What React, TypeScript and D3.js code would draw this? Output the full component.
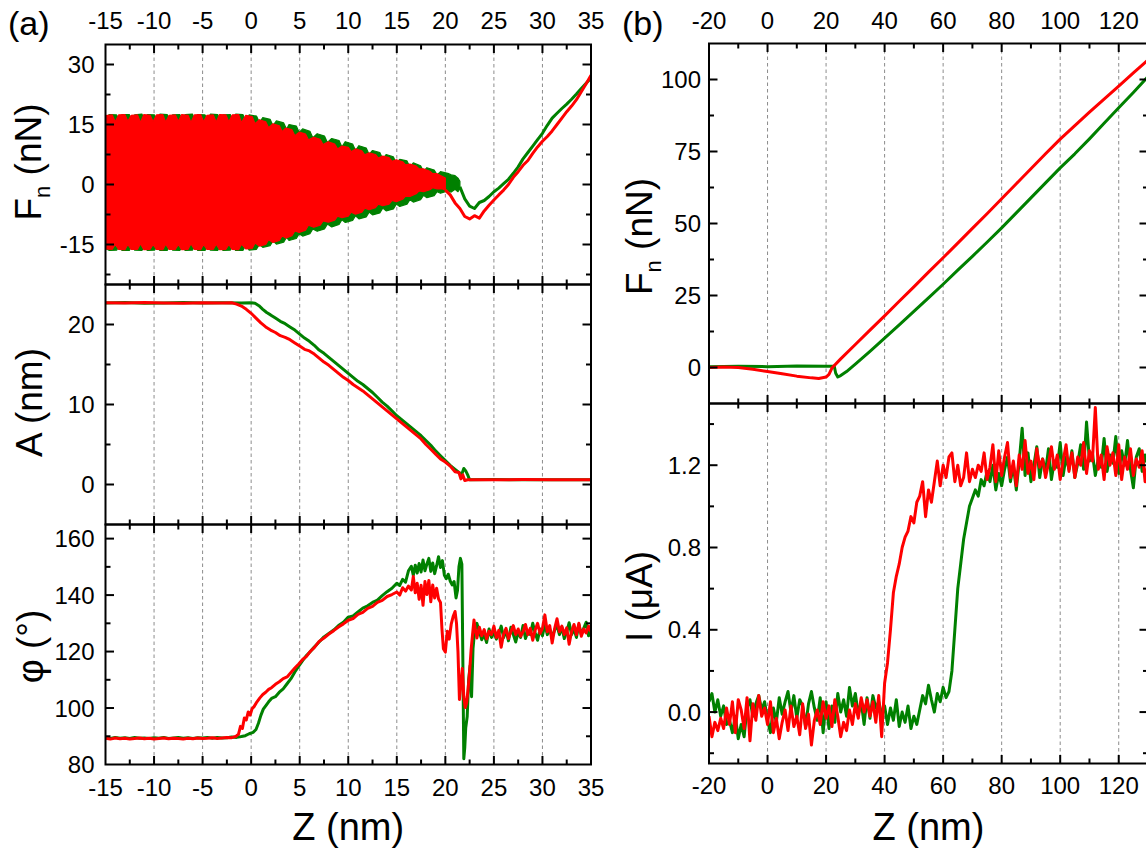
import React from "react";
import * as d3 from "d3";

const W = 1146;
const H = 850;
const FONT = "'Liberation Sans', Arial, Helvetica, sans-serif";
const RED = "#ff0000";
const GREEN = "#008000";

// ---------- tick values ----------
const aXMajor = [-15, -10, -5, 0, 5, 10, 15, 20, 25, 30, 35];
const aXMinor = [-12.5, -7.5, -2.5, 2.5, 7.5, 12.5, 17.5, 22.5, 27.5, 32.5];
const bXMajor = [-20, 0, 20, 40, 60, 80, 100, 120];
const bXMinor = [-10, 10, 30, 50, 70, 90, 110];
const fnAMajor = [-15, 0, 15, 30];
const fnAMinor = [-22.5, -7.5, 7.5, 22.5];
const ampMajor = [0, 10, 20];
const ampMinor = [5, 15];
const phiMajor = [80, 100, 120, 140, 160];
const phiMinor = [90, 110, 130, 150];
const fnBMajor = [0, 25, 50, 75, 100];
const fnBMinor = [12.5, 37.5, 62.5, 87.5];
const curMajor = [0, 0.4, 0.8, 1.2];
const curMinor = [-0.2, 0.2, 0.6, 1.0, 1.4];

// ---------- panel (a): Fn oscillation band [z, low, high] ----------
const fnGreenBand = [
  [-15, -16.0, 16.6],
  [-14.6, -16.5, 17.5], [-13.85, -16.4, 17.4], [-13.55, -15.2, 15.9],
  [-13.3, -16.5, 17.5], [-12.55, -16.5, 17.5], [-12.25, -15.3, 15.8],
  [-12.0, -16.4, 17.4], [-11.25, -16.5, 17.6], [-10.95, -15.2, 15.9],
  [-10.7, -16.5, 17.5], [-9.95, -16.4, 17.4], [-9.65, -15.3, 15.8],
  [-9.4, -16.5, 17.6], [-8.65, -16.5, 17.5], [-8.35, -15.2, 15.9],
  [-8.1, -16.4, 17.4], [-7.35, -16.5, 17.5], [-7.05, -15.3, 15.8],
  [-6.8, -16.5, 17.5], [-6.05, -16.4, 17.6], [-5.75, -15.2, 15.9],
  [-5.5, -16.5, 17.5], [-4.75, -16.5, 17.4], [-4.45, -15.3, 15.8],
  [-4.2, -16.4, 17.6], [-3.45, -16.5, 17.5], [-3.15, -15.2, 15.9],
  [-2.9, -16.5, 17.4], [-2.15, -16.4, 17.5], [-1.85, -15.3, 15.8],
  [-1.6, -16.5, 17.6], [-0.85, -16.5, 17.5], [-0.55, -15.2, 15.9],
  [-0.2, -16.4, 17.4], [0.55, -16.2, 17.1], [0.85, -15.0, 15.5],
  [1.2, -15.7, 16.7], [1.95, -15.3, 16.3], [2.25, -14.1, 14.7],
  [2.6, -14.9, 15.9], [3.35, -14.4, 15.4], [3.65, -13.2, 13.8],
  [3.9, -14.0, 15.0], [4.65, -13.5, 14.6], [4.95, -12.3, 13.0],
  [5.3, -12.9, 13.9], [6.05, -12.3, 13.3], [6.35, -11.1, 11.7],
  [6.8, -11.7, 12.7], [7.55, -11.1, 12.1], [7.85, -9.9, 10.5],
  [8.3, -10.6, 11.5], [9.05, -10.0, 11.0], [9.35, -8.8, 9.4],
  [9.7, -9.5, 10.7], [10.45, -9.0, 10.1], [10.75, -7.8, 8.5],
  [11.1, -8.6, 9.7], [11.85, -8.1, 9.1], [12.15, -6.9, 7.5],
  [12.5, -7.6, 8.5], [13.25, -7.1, 8.0], [13.55, -5.9, 6.4],
  [13.9, -6.6, 7.5], [14.65, -6.1, 6.9], [14.95, -4.9, 5.3],
  [15.3, -5.5, 6.3], [16.05, -4.9, 5.9], [16.35, -3.8, 4.4],
  [16.7, -4.4, 5.4], [17.45, -3.8, 4.7], [17.75, -2.7, 3.3],
  [18.1, -3.3, 4.2], [18.85, -2.8, 3.6], [19.15, -1.8, 2.4],
  [19.5, -2.2, 3.2], [20.25, -1.6, 2.8], [20.6, -1.9, 2.4], [21.0, -1.2, 2.2], [21.3, -1.8, 1.6],
  [21.5, -1.0, 0.8],
];
const fnRedBand = [
  [-15, -16.1, 17.2], [-14.3, -16.2, 17.4], [-14.0, -15.0, 15.6],
  [-13.65, -16.2, 17.4], [-13.0, -16.3, 17.5], [-12.7, -15.0, 15.8],
  [-12.35, -16.2, 17.3], [-11.7, -16.2, 17.4], [-11.4, -14.8, 15.5],
  [-11.05, -16.3, 17.5], [-10.4, -16.2, 17.3], [-10.1, -15.0, 15.7],
  [-9.75, -16.2, 17.4], [-9.1, -16.3, 17.5], [-8.8, -14.9, 15.6],
  [-8.45, -16.2, 17.3], [-7.8, -16.2, 17.4], [-7.5, -15.0, 15.8],
  [-7.15, -16.3, 17.5], [-6.5, -16.2, 17.3], [-6.2, -14.8, 15.5],
  [-5.85, -16.2, 17.4], [-5.2, -16.3, 17.5], [-4.9, -15.0, 15.7],
  [-4.55, -16.2, 17.3], [-3.9, -16.2, 17.4], [-3.6, -14.9, 15.6],
  [-3.25, -16.3, 17.5], [-2.6, -16.2, 17.4], [-2.3, -15.0, 15.7],
  [-1.95, -16.2, 17.4], [-1.3, -16.3, 17.5], [-1.0, -14.9, 15.5],
  [-0.55, -16.1, 17.3], [0.1, -16.0, 17.0], [0.4, -14.6, 15.2],
  [0.85, -15.4, 16.2], [1.5, -15.0, 15.7], [1.8, -13.8, 14.2],
  [2.25, -14.5, 15.2], [2.9, -14.0, 14.7], [3.2, -12.8, 13.2],
  [3.55, -13.4, 14.1], [4.2, -12.8, 13.7], [4.5, -11.6, 12.2],
  [4.95, -12.0, 13.1], [5.6, -11.4, 12.6], [5.9, -10.2, 11.2],
  [6.45, -10.7, 11.8], [7.1, -10.2, 11.3], [7.4, -9.1, 10.0],
  [7.95, -9.4, 10.7], [8.6, -8.9, 10.1], [8.9, -7.9, 8.9],
  [9.35, -8.3, 9.6], [10.0, -7.9, 9.3], [10.3, -6.9, 8.2],
  [10.75, -7.4, 8.9], [11.4, -6.9, 8.4], [11.7, -5.9, 7.4],
  [12.15, -6.3, 7.9], [12.8, -5.8, 7.5], [13.1, -4.9, 6.6],
  [13.55, -5.3, 7.1], [14.2, -4.9, 6.7], [14.5, -4.0, 5.8],
  [14.95, -4.3, 6.2], [15.6, -3.7, 5.7], [15.9, -2.9, 4.9],
  [16.35, -3.0, 5.1], [17.0, -2.3, 4.6], [17.3, -1.6, 3.9],
  [17.75, -1.8, 3.9], [18.4, -1.3, 3.3], [18.7, -0.8, 2.7],
  [19.15, -1.1, 2.7], [19.7, -1.1, 2.0], [20.0, -1.4, 1.6],
];
const fnGreenTail = [
  [21.5, -0.6], [22, -3.6], [22.5, -5.4], [23, -6.0], [23.5, -4.5], [24, -4.0], [24.5, -3.0],
  [25, -1.8], [25.5, -0.9], [26, 0.2], [26.5, 1.3], [27, 2.8], [27.5, 4.4], [28, 6.4], [28.5, 8.0],
  [29, 9.6], [29.5, 11.2], [30, 12.8], [30.5, 14.8], [31, 16.6], [31.5, 17.8], [32, 19.0],
  [32.5, 20.1], [33, 21.3], [33.5, 22.6], [34, 24.0], [34.5, 25.3], [35, 26.6],
];
const fnRedTail = [
  [20, -1.4], [20.5, -2.6], [21, -4.6], [21.5, -6.0], [22, -8.0], [22.5, -8.6], [23, -7.8],
  [23.5, -8.4], [24, -6.6], [24.5, -5.2], [25, -3.9], [25.5, -2.6], [26, -1.4], [26.5, 0.0],
  [27, 1.8], [27.5, 3.2], [28, 4.8], [28.5, 6.0], [29, 7.8], [29.5, 9.4], [30, 10.8], [30.5, 12.0],
  [31, 13.4], [31.5, 15.0], [32, 16.6], [32.5, 18.2], [33, 19.6], [33.5, 21.2], [34, 23.2],
  [34.5, 25.2], [35, 27.3],
];

// ---------- panel (a): amplitude ----------
const ampGreen = [
  [-15, 22.7], [-13, 22.75], [-11, 22.65], [-9, 22.7], [-7, 22.75], [-5, 22.7], [-3, 22.72], [-1, 22.7],
  [0, 22.72], [0.4, 22.65], [0.8, 22.35], [1.2, 21.9], [1.6, 21.5], [2, 21.2], [2.5, 20.8], [3, 20.4],
  [3.5, 20.1], [4, 19.7], [4.5, 19.3], [5, 18.8], [5.5, 18.3], [6, 17.9], [6.5, 17.4], [7, 16.8],
  [7.5, 16.4], [8, 15.9], [8.5, 15.4], [9, 14.9], [9.5, 14.4], [10, 13.9], [10.5, 13.4], [11, 12.9],
  [11.5, 12.5], [12, 12.0], [12.5, 11.5], [13, 10.9], [13.5, 10.3], [14, 9.8], [14.5, 9.2], [15, 8.6],
  [15.5, 8.1], [16, 7.6], [16.5, 7.1], [17, 6.6], [17.5, 6.1], [18, 5.5], [18.5, 4.9], [19, 4.2],
  [19.5, 3.6], [20, 3.0], [20.5, 2.4], [21, 1.9], [21.4, 1.5], [21.7, 1.3], [21.9, 2.0], [22.1, 1.7],
  [22.3, 1.2], [22.5, 0.6], [25, 0.62], [28, 0.58], [31, 0.6], [35, 0.6],
];
const ampRed = [
  [-15, 22.72], [-13, 22.68], [-11, 22.74], [-9, 22.7], [-7, 22.66], [-5, 22.72], [-3, 22.7], [-2, 22.72],
  [-1.5, 22.55], [-1, 22.3], [-0.5, 21.9], [0, 21.4], [0.5, 20.8], [1, 20.2], [1.5, 19.7], [2, 19.3],
  [2.5, 19.0], [3, 18.6], [3.5, 18.4], [4, 18.1], [4.5, 17.7], [5, 17.3], [5.5, 16.9], [6, 16.7],
  [6.5, 16.3], [7, 15.8], [7.5, 15.3], [8, 14.9], [8.5, 14.4], [9, 13.9], [9.5, 13.4], [10, 13.0],
  [10.5, 12.5], [11, 12.1], [11.5, 11.7], [12, 11.2], [12.5, 10.7], [13, 10.2], [13.5, 9.7], [14, 9.2],
  [14.5, 8.7], [15, 8.2], [15.5, 7.7], [16, 7.2], [16.5, 6.7], [17, 6.2], [17.5, 5.7], [18, 5.0],
  [18.5, 4.4], [19, 3.8], [19.5, 3.2], [20, 2.8], [20.5, 2.3], [21, 1.6], [21.4, 1.5], [21.6, 0.7],
  [21.8, 1.2], [22, 0.5], [22.3, 0.6], [25, 0.58], [28, 0.62], [31, 0.6], [35, 0.6],
];

// ---------- panel (a): phase ----------
const phiGreen = [
  [-15, 89.5], [-14.5, 89.2], [-14, 89.6], [-13.5, 89.3], [-13, 89.5], [-12.5, 89.2], [-12, 89.6], [-11.5, 89.3],
  [-11, 89.4], [-10.5, 89.2], [-10, 89.5], [-9.5, 89.3], [-9, 89.6], [-8.5, 89.2], [-8, 89.4], [-7.5, 89.6],
  [-7, 89.3], [-6.5, 89.5], [-6, 89.2], [-5.5, 89.5], [-5, 89.4], [-4.5, 89.6], [-4, 89.3], [-3.5, 89.6],
  [-3, 89.4], [-2.5, 89.5], [-2, 89.7], [-1.5, 89.6], [-1, 89.9], [-0.6, 90.2], [-0.2, 90.9], [0.2, 91.4],
  [0.5, 92.4], [0.75, 94.6], [1.0, 97.4], [1.25, 99.6], [1.5, 100.8], [1.8, 102.2], [2.1, 103.4], [2.5, 104.0],
  [2.9, 105.6], [3.3, 106.8], [3.7, 108.6], [4.1, 110.4], [4.5, 112.8], [4.9, 114.8], [5.3, 116.8], [5.7, 118.6],
  [6.1, 120.0], [6.5, 121.6], [7.0, 123.4], [7.5, 125.2], [8.0, 126.4], [8.5, 127.6], [9.0, 129.2], [9.5, 130.4],
  [10.0, 132.2], [10.5, 132.6], [11.0, 134.0], [11.5, 135.4], [12.0, 136.2], [12.5, 137.4], [13.0, 138.2],
  [13.5, 139.8], [14.0, 141.2], [14.5, 142.4], [15.0, 144.2], [15.3, 143.4], [15.6, 145.6], [15.9, 144.6],
  [16.2, 148.6], [16.5, 150.2], [16.7, 147.0], [16.9, 150.6], [17.1, 147.8], [17.3, 151.2], [17.5, 148.2],
  [17.7, 152.4], [17.9, 148.6], [18.1, 151.0], [18.3, 153.0], [18.5, 148.4], [18.7, 151.4], [18.9, 147.6],
  [19.1, 150.4], [19.3, 153.6], [19.5, 149.8], [19.7, 152.2], [19.9, 147.0], [20.1, 145.8], [20.3, 147.4],
  [20.5, 145.0], [20.7, 143.6], [20.9, 144.8], [21.1, 139.0], [21.25, 141.6], [21.4, 150.0], [21.55, 153.0],
  [21.7, 151.0], [21.8, 118.0], [21.9, 82.0], [22.0, 86.0], [22.1, 93.0], [22.25, 97.0], [22.4, 110.0],
  [22.55, 115.0], [22.7, 104.0], [22.85, 121.0], [23.0, 126.8], [23.25, 130.0], [23.5, 127.0], [23.75, 124.2],
  [24.0, 126.0], [24.25, 123.2], [24.5, 128.0], [24.75, 125.0], [25.0, 127.0], [25.25, 124.4], [25.5, 126.2],
  [25.75, 129.0], [26.0, 125.0], [26.25, 127.4], [26.5, 123.8], [26.75, 128.6], [27.0, 126.0], [27.25, 123.4],
  [27.5, 127.0], [27.75, 125.0], [28.0, 129.2], [28.25, 124.6], [28.5, 127.0], [28.75, 126.0], [29.0, 130.0],
  [29.25, 126.6], [29.5, 124.0], [29.75, 128.0], [30.0, 125.6], [30.25, 129.6], [30.5, 126.0], [30.75, 128.0],
  [31.0, 125.0], [31.25, 127.6], [31.5, 129.2], [31.75, 126.0], [32.0, 128.6], [32.25, 124.6], [32.5, 127.0],
  [32.75, 130.2], [33.0, 126.0], [33.25, 128.0], [33.5, 125.0], [33.75, 129.6], [34.0, 126.0], [34.25, 128.2],
  [34.5, 130.4], [34.75, 125.6], [35.0, 128.0],
];
const phiRed = [
  [-15, 89.3], [-14.5, 89.0], [-14, 89.4], [-13.5, 89.1], [-13, 89.3], [-12.5, 89.0], [-12, 89.2], [-11.5, 89.4],
  [-11, 89.1], [-10.5, 89.3], [-10, 89.0], [-9.5, 89.2], [-9, 89.4], [-8.5, 89.1], [-8, 89.3], [-7.5, 89.2],
  [-7, 89.0], [-6.5, 89.3], [-6, 89.1], [-5.5, 89.4], [-5, 89.2], [-4.5, 89.3], [-4, 89.5], [-3.5, 89.2],
  [-3, 89.4], [-2.5, 89.6], [-2, 89.5], [-1.6, 89.9], [-1.3, 90.8], [-1.1, 93.5], [-0.9, 92.8], [-0.7, 96.5],
  [-0.5, 95.8], [-0.3, 98.6], [-0.1, 97.5], [0.1, 99.8], [0.3, 100.5], [0.6, 102.2], [0.9, 103.6], [1.2, 104.8],
  [1.5, 105.6], [1.8, 106.6], [2.1, 107.2], [2.5, 108.4], [2.9, 109.3], [3.3, 110.4], [3.7, 111.0], [4.1, 112.6],
  [4.5, 114.2], [4.9, 115.6], [5.3, 117.2], [5.7, 118.3], [6.1, 120.1], [6.5, 121.4], [7.0, 123.6], [7.5, 124.8],
  [8.0, 126.2], [8.5, 127.4], [9.0, 128.7], [9.5, 129.8], [10.0, 131.1], [10.5, 131.7], [11.0, 133.2],
  [11.5, 133.9], [12.0, 135.3], [12.5, 136.0], [13.0, 137.4], [13.5, 138.1], [14.0, 139.5], [14.5, 140.2],
  [15.0, 141.1], [15.3, 140.0], [15.6, 142.6], [15.9, 141.4], [16.2, 143.2], [16.5, 141.8], [16.7, 146.6],
  [16.9, 140.8], [17.1, 144.2], [17.3, 138.5], [17.5, 143.5], [17.7, 136.4], [17.9, 144.8], [18.1, 140.2],
  [18.3, 145.2], [18.5, 137.6], [18.7, 143.6], [18.9, 139.0], [19.1, 142.4], [19.3, 138.6], [19.5, 137.4],
  [19.65, 128.0], [19.8, 121.0], [20.0, 119.8], [20.2, 127.2], [20.4, 124.4], [20.6, 129.6], [20.8, 132.4],
  [21.0, 134.2], [21.15, 130.0], [21.3, 120.0], [21.45, 103.0], [21.6, 108.5], [21.75, 114.0], [21.9, 104.0],
  [22.05, 100.2], [22.2, 102.0], [22.35, 107.0], [22.5, 113.0], [22.65, 120.5], [22.8, 126.0], [22.95, 131.2],
  [23.1, 127.4], [23.25, 124.8], [23.5, 128.6], [23.75, 125.6], [24.0, 127.8], [24.25, 124.5], [24.5, 127.2],
  [24.75, 126.0], [25.0, 129.0], [25.25, 125.0], [25.5, 127.5], [25.75, 121.5], [26.0, 126.2], [26.25, 128.2],
  [26.5, 124.6], [26.75, 127.0], [27.0, 129.2], [27.25, 126.0], [27.5, 128.0], [27.75, 125.4], [28.0, 127.0],
  [28.25, 129.6], [28.5, 126.0], [28.75, 128.2], [29.0, 124.0], [29.25, 127.6], [29.5, 130.0], [29.75, 126.4],
  [30.0, 128.2], [30.25, 133.0], [30.5, 127.0], [30.75, 129.2], [31.0, 123.0], [31.25, 128.0], [31.5, 131.6],
  [31.75, 127.0], [32.0, 129.0], [32.25, 126.0], [32.5, 128.4], [32.75, 122.6], [33.0, 127.0], [33.25, 129.6],
  [33.5, 126.0], [33.75, 130.0], [34.0, 125.4], [34.25, 128.0], [34.5, 126.6], [34.75, 129.0], [35.0, 127.0],
];

// ---------- panel (b): normal force ----------
const fnBGreen = [
  [-20, 0.3], [-10, 0.4], [0, 0.3], [10, 0.5], [20, 0.4], [22.8, 0.4], [23.3, -2.0], [24, -3.3], [25, -2.8],
  [27, -1.4], [30, 1.2], [35, 5.6], [40, 10.2], [45, 14.8], [50, 19.5], [55, 24.2], [60, 28.9], [65, 33.8],
  [70, 38.6], [75, 43.5], [80, 48.5], [85, 53.7], [90, 58.9], [95, 64.1], [100, 69.3], [105, 74.2],
  [110, 79.4], [115, 84.8], [120, 90.2], [125, 95.5], [130, 101.0],
];
const fnBRed = [
  [-20, 0.0], [-15, 0.2], [-10, 0.0], [-5, -0.6], [0, -1.4], [5, -2.2], [10, -3.0], [15, -3.6], [17.5, -3.8],
  [20, -3.3], [21, -2.4], [22, -0.2], [25, 3.0], [30, 8.0], [35, 13.0], [40, 17.9], [45, 23.0], [50, 28.0],
  [55, 33.1], [60, 38.1], [65, 43.2], [70, 48.3], [75, 53.4], [80, 58.6], [85, 63.8], [90, 69.0], [95, 74.2],
  [100, 79.3], [105, 84.0], [110, 88.7], [115, 93.2], [120, 97.7], [125, 102.3], [130, 106.8],
];

// ---------- panel (b): current, one value per nm from z = -20 ----------
const curZStart = -20;
const curGreen = [
  0.05, 0.09, 0.0, 0.06, -0.02, 0.03, -0.06, -0.04, -0.10, -0.02, -0.13, -0.06, -0.12, 0.02, 0.06, -0.02, 0.04, 0.08, 0.01, 0.05,
  -0.04, -0.10, 0.02, -0.05, 0.07, -0.01, 0.05, 0.10, 0.0, 0.08, -0.03, 0.06, 0.03, -0.07, 0.04, 0.10, 0.02, -0.04, 0.07, -0.10,
  0.05, -0.08, 0.03, -0.05, 0.09, 0.0, 0.06, -0.02, 0.12, 0.03, 0.09, -0.01, 0.05, -0.06, 0.07, -0.03, 0.08, 0.02, 0.05, -0.01,
  0.03, -0.06, 0.02, -0.04, 0.06, -0.07, 0.0, -0.05, 0.03, -0.08, -0.02, -0.06, 0.01, 0.08, 0.04, 0.13, 0.06, 0.0, 0.09, 0.05,
  0.12, 0.07, 0.10, 0.20, 0.40, 0.60, 0.72, 0.84, 0.92, 1.0, 1.04, 1.08, 1.05, 1.13, 1.10, 1.17, 1.12, 1.20, 1.08, 1.16,
  1.10, 1.18, 1.24, 1.12, 1.20, 1.08, 1.22, 1.38, 1.15, 1.26, 1.12, 1.20, 1.29, 1.14, 1.23, 1.17, 1.28, 1.13, 1.22, 1.19,
  1.31, 1.15, 1.24, 1.18, 1.27, 1.14, 1.21, 1.30, 1.18, 1.41, 1.22, 1.26, 1.15, 1.23, 1.19, 1.33, 1.17, 1.25, 1.21, 1.34,
  1.16, 1.27, 1.20, 1.32, 1.18, 1.09, 1.24, 1.28, 1.17, 1.25, 1.20,
];
const curRed = [
  -0.02, -0.12, -0.05, -0.09, -0.03, -0.08, 0.02, -0.06, 0.05, -0.10, 0.06, 0.01, -0.08, 0.07, -0.14, 0.04, -0.04, 0.08, -0.02, 0.02,
  -0.06, 0.05, -0.10, -0.03, -0.13, -0.05, 0.01, -0.09, 0.03, -0.07, -0.02, -0.11, 0.04, -0.08, -0.01, -0.16, -0.04, 0.01, -0.06, 0.05,
  -0.03, 0.03, -0.07, 0.06, -0.02, -0.12, -0.05, -0.09, 0.01, -0.06, 0.04, -0.03, 0.07, 0.0, 0.06, -0.02, 0.05, -0.05, 0.08, -0.12,
  0.14, 0.24, 0.40, 0.58, 0.66, 0.72, 0.80, 0.85, 0.88, 0.95, 0.92, 1.02, 1.05, 1.12, 0.95, 1.08, 1.02, 1.12, 1.22, 1.10,
  1.20, 1.14, 1.24, 1.26, 1.12, 1.20, 1.10, 1.14, 1.26, 1.12, 1.18, 1.14, 1.20, 1.17, 1.26, 1.13, 1.19, 1.30, 1.12, 1.27,
  1.15, 1.24, 1.31, 1.14, 1.22, 1.10, 1.25, 1.18, 1.32, 1.16, 1.22, 1.13, 1.28, 1.19, 1.23, 1.14, 1.21, 1.29, 1.18, 1.25,
  1.13, 1.22, 1.30, 1.17, 1.26, 1.14, 1.24, 1.20, 1.31, 1.16, 1.27, 1.22, 1.48, 1.18, 1.25, 1.13, 1.29, 1.20, 1.26, 1.15,
  1.30, 1.13, 1.24, 1.18, 1.28, 1.15, 1.23, 1.19, 1.27, 1.12, 1.22,
];

// ---------- geometry ----------
const aLeft = 105.5, aRight = 591;
const bLeft = 709, bRight = 1148;
const xA = d3.scaleLinear().domain([-15, 35]).range([aLeft, aRight]);
const xB = d3.scaleLinear().domain([-20, 130]).range([bLeft, bRight]);
const yFnA = d3.scaleLinear().domain([-25, 35]).range([284.5, 44.5]);
const yAmp = d3.scaleLinear().domain([-5, 25]).range([524.5, 284.5]);
const yPhi = d3.scaleLinear().domain([80, 165]).range([764.5, 524.5]);
const yFnB = d3.scaleLinear().domain([-12.5, 112.5]).range([403.5, 43.5]);
const yCur = d3.scaleLinear().domain([-0.25, 1.5]).range([763.5, 403.5]);

type Pt = number[];

function pathOf(x: any, y: any, pts: Pt[]) {
  return d3.line<Pt>().x((d) => x(d[0])).y((d) => y(d[1]))(pts) || "";
}
function bandOf(x: any, y: any, pts: Pt[]) {
  return (
    d3
      .area<Pt>()
      .x((d) => x(d[0]))
      .y0((d) => y(d[1]))
      .y1((d) => y(d[2]))(pts) || ""
  );
}

const MAJ = 8.5;
const MIN = 5;

function Panel(props: {
  id: string;
  x: any;
  y: any;
  xMajor: number[];
  xMinor: number[];
  yMajor: number[];
  yMinor: number[];
  yFmt: (v: number) => string;
  labelGap: number;
  children?: React.ReactNode;
}) {
  const { id, x, y, xMajor, xMinor, yMajor, yMinor, yFmt, labelGap, children } = props;
  const [x0, x1] = x.range();
  const [yb, yt] = y.range();
  const inner = (v: number, s: any) => {
    const p = s(v);
    const r = s.range();
    const lo = Math.min(r[0], r[1]);
    const hi = Math.max(r[0], r[1]);
    return p > lo + 0.5 && p < hi - 0.5;
  };
  const xs = [...xMajor.map((v) => [v, MAJ]), ...xMinor.map((v) => [v, MIN])].filter((d) => inner(d[0], x));
  const ys = [...yMajor.map((v) => [v, MAJ]), ...yMinor.map((v) => [v, MIN])].filter((d) => inner(d[0], y));
  return (
    <g>
      <clipPath id={id}>
        <rect x={x0} y={yt} width={x1 - x0} height={yb - yt} />
      </clipPath>
      {xMajor
        .filter((v) => inner(v, x))
        .map((v) => (
          <line
            key={"g" + v}
            x1={x(v)}
            x2={x(v)}
            y1={yt}
            y2={yb}
            stroke="#8c8c8c"
            strokeWidth={1}
            strokeDasharray="3.5,3"
          />
        ))}
      <g clipPath={`url(#${id})`}>{children}</g>
      <g stroke="#000" strokeWidth={2}>
        {xs.map(([v, l]) => (
          <g key={"x" + v}>
            <line x1={x(v)} x2={x(v)} y1={yb} y2={yb - l} />
            <line x1={x(v)} x2={x(v)} y1={yt} y2={yt + l} />
          </g>
        ))}
        {ys.map(([v, l]) => (
          <g key={"y" + v}>
            <line x1={x0} x2={x0 + l} y1={y(v)} y2={y(v)} />
            <line x1={x1} x2={x1 - l} y1={y(v)} y2={y(v)} />
          </g>
        ))}
      </g>
      <rect x={x0} y={yt} width={x1 - x0} height={yb - yt} fill="none" stroke="#000" strokeWidth={2} />
      <g fontFamily={FONT} fontSize={24} textAnchor="end" fill="#000">
        {yMajor
          .filter((v) => y(v) >= yt - 1 && y(v) <= yb + 1)
          .map((v) => (
            <text key={"l" + v} x={x0 - labelGap} y={y(v)} dy="0.36em">
              {yFmt(v)}
            </text>
          ))}
      </g>
    </g>
  );
}

function XLabels(props: { x: any; ticks: number[]; yTop: number; yBot: number }) {
  const { x, ticks, yTop, yBot } = props;
  return (
    <g fontFamily={FONT} fontSize={24} textAnchor="middle" fill="#000">
      {ticks.map((v) => (
        <g key={v}>
          <text x={x(v)} y={yTop}>{String(v)}</text>
          <text x={x(v)} y={yBot}>{String(v)}</text>
        </g>
      ))}
    </g>
  );
}

function YTitle(props: { x: number; y: number; children: React.ReactNode }) {
  return (
    <text
      transform={`translate(${props.x},${props.y}) rotate(-90)`}
      textAnchor="middle"
      fontFamily={FONT}
      fontSize={37}
      fill="#000"
    >
      {props.children}
    </text>
  );
}

export default function App() {
  const lw = 3;
  const fmtInt = (v: number) => String(v);
  const fmt1 = (v: number) => v.toFixed(1);
  return (
    <svg
      width={W}
      height={H}
      viewBox={`0 0 ${W} ${H}`}
      style={{ position: "absolute", left: 0, top: 0, background: "#fff" }}
    >
      <rect x={0} y={0} width={W} height={H} fill="#fff" />

      {/* ---------------- panel (a) ---------------- */}
      <Panel id="cA1" x={xA} y={yFnA} xMajor={aXMajor} xMinor={aXMinor} yMajor={fnAMajor} yMinor={fnAMinor} yFmt={fmtInt} labelGap={11}>
        <path d={bandOf(xA, yFnA, fnGreenBand)} fill={GREEN} stroke={GREEN} strokeWidth={1.2} strokeLinejoin="round" />
        <path d={pathOf(xA, yFnA, fnGreenTail)} fill="none" stroke={GREEN} strokeWidth={lw} strokeLinejoin="round" />
        <path d={bandOf(xA, yFnA, fnRedBand)} fill={RED} stroke={RED} strokeWidth={1.2} strokeLinejoin="round" />
        <path d={pathOf(xA, yFnA, fnRedTail)} fill="none" stroke={RED} strokeWidth={lw} strokeLinejoin="round" />
      </Panel>
      <Panel id="cA2" x={xA} y={yAmp} xMajor={aXMajor} xMinor={aXMinor} yMajor={ampMajor} yMinor={ampMinor} yFmt={fmtInt} labelGap={11}>
        <path d={pathOf(xA, yAmp, ampGreen)} fill="none" stroke={GREEN} strokeWidth={lw} strokeLinejoin="round" />
        <path d={pathOf(xA, yAmp, ampRed)} fill="none" stroke={RED} strokeWidth={lw} strokeLinejoin="round" />
      </Panel>
      <Panel id="cA3" x={xA} y={yPhi} xMajor={aXMajor} xMinor={aXMinor} yMajor={phiMajor} yMinor={phiMinor} yFmt={fmtInt} labelGap={11}>
        <path d={pathOf(xA, yPhi, phiGreen)} fill="none" stroke={GREEN} strokeWidth={lw} strokeLinejoin="round" />
        <path d={pathOf(xA, yPhi, phiRed)} fill="none" stroke={RED} strokeWidth={lw} strokeLinejoin="round" />
      </Panel>
      <XLabels x={xA} ticks={aXMajor} yTop={29} yBot={796} />

      {/* ---------------- panel (b) ---------------- */}
      <Panel id="cB1" x={xB} y={yFnB} xMajor={bXMajor} xMinor={bXMinor} yMajor={fnBMajor} yMinor={fnBMinor} yFmt={fmtInt} labelGap={8}>
        <path d={pathOf(xB, yFnB, fnBGreen)} fill="none" stroke={GREEN} strokeWidth={lw} strokeLinejoin="round" />
        <path d={pathOf(xB, yFnB, fnBRed)} fill="none" stroke={RED} strokeWidth={lw} strokeLinejoin="round" />
      </Panel>
      <Panel id="cB2" x={xB} y={yCur} xMajor={bXMajor} xMinor={bXMinor} yMajor={curMajor} yMinor={curMinor} yFmt={fmt1} labelGap={8}>
        <path
          d={pathOf(xB, yCur, curGreen.map((v, i) => [curZStart + i, v]))}
          fill="none"
          stroke={GREEN}
          strokeWidth={lw}
          strokeLinejoin="round"
        />
        <path
          d={pathOf(xB, yCur, curRed.map((v, i) => [curZStart + i, v]))}
          fill="none"
          stroke={RED}
          strokeWidth={lw}
          strokeLinejoin="round"
        />
      </Panel>
      <XLabels x={xB} ticks={bXMajor} yTop={28.5} yBot={794} />

      {/* ---------------- titles ---------------- */}
      <g fontFamily={FONT} fill="#000">
        <text x={8} y={35} fontSize={34}>(a)</text>
        <text x={622} y={35} fontSize={34}>(b)</text>
        <text x={(aLeft + aRight) / 2} y={840} fontSize={38} textAnchor="middle">Z (nm)</text>
        <text x={(bLeft + bRight) / 2} y={840} fontSize={38} textAnchor="middle">Z (nm)</text>
      </g>
      <YTitle x={41} y={162}>
        F<tspan fontSize={22} dy={9}>n</tspan>
        <tspan dy={-9}> (nN)</tspan>
      </YTitle>
      <YTitle x={42} y={402.5}>A (nm)</YTitle>
      <YTitle x={43} y={646.5}>φ (°)</YTitle>
      <YTitle x={652} y={236.5}>
        F<tspan fontSize={22} dy={9}>n</tspan>
        <tspan dy={-9}> (nN)</tspan>
      </YTitle>
      <YTitle x={652} y={596.5}>I (μA)</YTitle>
    </svg>
  );
}
